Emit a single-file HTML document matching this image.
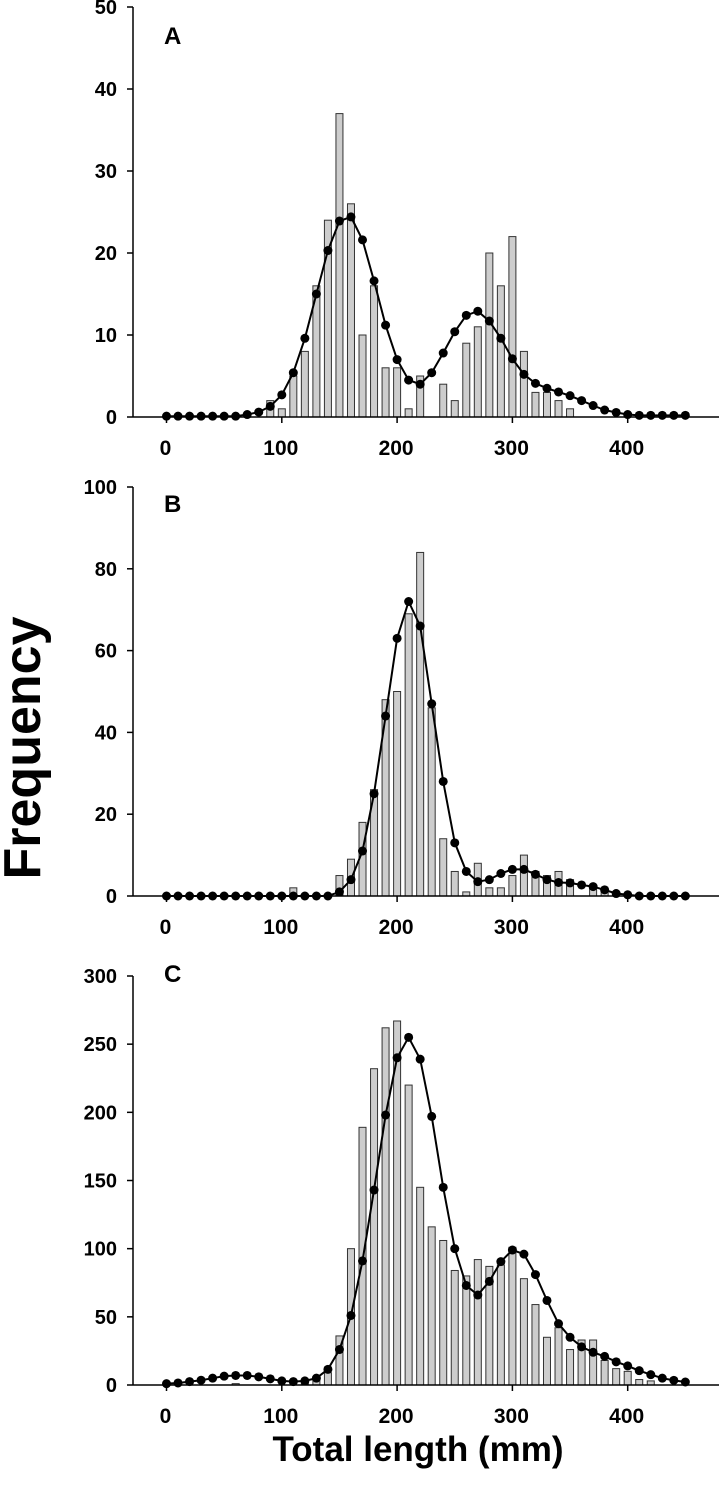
<!DOCTYPE html>
<html><head><meta charset="utf-8">
<style>
html,body{margin:0;padding:0;background:#fff;}
svg{display:block;font-family:"Liberation Sans",Arial,sans-serif;}
</style></head>
<body>
<svg id="chart" width="719" height="1493" viewBox="0 0 719 1493" xmlns="http://www.w3.org/2000/svg">
<text transform="translate(40,748) rotate(-90)" text-anchor="middle" font-size="52" font-weight="bold">Frequency</text>
<text x="418" y="1461" text-anchor="middle" font-size="35" font-weight="bold">Total length (mm)</text>
</svg>
<script>
const xTicks = [0,100,200,300,400];
const curveX = [0,10,20,30,40,50,60,70,80,90,100,110,120,130,140,150,160,170,180,190,200,210,220,230,240,250,260,270,280,290,300,310,320,330,340,350,360,370,380,390,400,410,420,430,440,450];

const barsAx = [90,100,110,120,130,140,150,160,170,180,190,200,210,220,240,250,260,270,280,290,300,310,320,330,340,350];
const barsAy = [2,1,5,8,16,24,37,26,10,16,6,6,1,5,4,2,9,11,20,16,22,8,3,3,2,1];
const curveAy = [0.1,0.1,0.1,0.1,0.1,0.1,0.1,0.3,0.6,1.3,2.7,5.4,9.6,15,20.3,23.9,24.4,21.6,16.6,11.2,7,4.5,4,5.4,7.8,10.4,12.4,12.9,11.7,9.6,7.1,5.2,4.1,3.5,3.05,2.6,2,1.4,0.85,0.55,0.3,0.2,0.2,0.2,0.2,0.2];
const yTicksA = [0,10,20,30,40,50];

const barsBx = [110,150,160,170,180,190,200,210,220,230,240,250,260,270,280,290,300,310,320,330,340,350,370,380];
const barsBy = [2,5,9,18,26,48,50,69,84,46,14,6,1,8,2,2,5,10,6,5,6,4,2,1];
const curveBy = [0,0,0,0,0,0,0,0,0,0,0,0,0,0,0,1,4,11,25,44,63,72,66,47,28,13,6,3.5,4,5.5,6.5,6.5,5.3,4,3.3,3.2,2.7,2.3,1.5,0.6,0.3,0,0,0,0,0];
const yTicksB = [0,20,40,60,80,100];

const barsCx = [60,120,130,140,150,160,170,180,190,200,210,220,230,240,250,260,270,280,290,300,310,320,330,340,350,360,370,380,390,400,410,420];
const barsCy = [1,3,5,9,36,100,189,232,262,267,220,145,116,106,84,80,92,87,88,101,78,59,35,42,26,33,33,18,12,10,4,3];
const curveCy = [1,1.5,2.5,3.5,5,6.5,7,7,6,4.5,3,2.5,3,5,11.5,26,51,91,143,198,240,255,239,197,145,100,73,66,76,90.5,99,96,81,62,45,35,28,24,21,17,14,10.5,7.6,5,3.4,2.2];
const yTicksC = [0,50,100,150,200,250,300];

const NS = "http://www.w3.org/2000/svg";
const svg = document.getElementById('chart');
const AXIS_X = 133;
function xs(v){ return 166.5 + v*1.153; }
function mk(tag, attrs, parent){
  const e = document.createElementNS(NS, tag);
  for (const k in attrs) e.setAttribute(k, attrs[k]);
  (parent||svg).appendChild(e);
  return e;
}
function panel(key, letter, letterY, top, bottom, yMax, yTicks, bx, by, cy){
  const g = mk('g', {});
  
  
  const ys = v => bottom - v*(bottom-top)/yMax;
  for (let i=0;i<bx.length;i++){
    const r = mk('rect', {x: xs(bx[i])-3.5, y: ys(by[i]), width: 7, height: bottom-ys(by[i]), fill:'#cdcdcd', stroke:'#333', 'stroke-width':1}, g);
    
    
  }
  const pts = curveX.map((x,i)=>xs(x).toFixed(1)+','+ys(cy[i]).toFixed(1)).join(' ');
  const pl = mk('polyline', {points: pts, fill:'none', stroke:'#000', 'stroke-width':2}, g);
  
  
  for (let i=0;i<curveX.length;i++){
    const c = mk('circle', {cx: xs(curveX[i]), cy: ys(cy[i]), r: 4.5, fill:'#000'}, g);
    
    
  }
  const ya = mk('line', {x1: AXIS_X, y1: top, x2: AXIS_X, y2: bottom, stroke:'#000', 'stroke-width':1.5}, g);
  
  
  const xa = mk('line', {x1: AXIS_X, y1: bottom, x2: 719, y2: bottom, stroke:'#000', 'stroke-width':1.5}, g);
  
  
  yTicks.forEach(t=>{
    mk('line', {x1: AXIS_X-6, y1: ys(t), x2: AXIS_X, y2: ys(t), stroke:'#000', 'stroke-width':1.5}, g);
    const tx = mk('text', {x: 117, y: ys(t)+7, 'text-anchor':'end', 'font-size':20, 'font-weight':'bold'}, g);
    tx.textContent = t;
    
    
  });
  xTicks.forEach(t=>{
    mk('line', {x1: xs(t), y1: bottom, x2: xs(t), y2: bottom+6, stroke:'#000', 'stroke-width':1.5}, g);
    const tx = mk('text', {x: xs(t)-1, y: bottom+38, 'text-anchor':'middle', 'font-size':21, 'font-weight':'bold'}, g);
    tx.textContent = t;
    
    
  });
  const lt = mk('text', {x: 164, y: letterY, 'font-size':24, 'font-weight':'bold'}, g);
  lt.textContent = letter;
  
  
}
panel('a','A',44,7,417,50,yTicksA,barsAx,barsAy,curveAy);
panel('b','B',512,487,896,100,yTicksB,barsBx,barsBy,curveBy);
panel('c','C',982,976,1385,300,yTicksC,barsCx,barsCy,curveCy);
</script>
</body></html>
